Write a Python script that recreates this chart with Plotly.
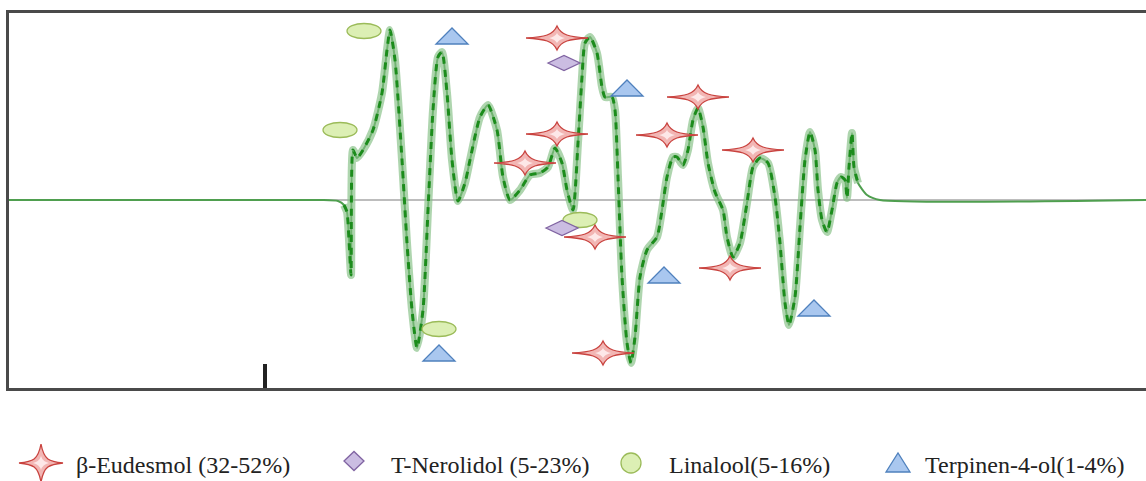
import plotly.graph_objects as go

# ---------------- data ----------------
signal_x = [9, 320, 338, 344, 347, 349, 351, 353, 357, 363, 373, 382, 387, 390, 395, 402, 407, 412, 417,
            423, 428, 433, 438, 442, 447, 452, 458, 465, 470, 480, 488, 497, 503, 510, 520, 530, 540,
            548, 555, 562, 567, 573, 578, 582, 585, 590, 597, 602, 605, 612, 615, 618, 622, 627, 631,
            635, 640, 647, 657, 662, 667, 673, 677, 683, 688, 693, 698, 703, 708, 715, 723, 727, 733,
            740, 747, 753, 760, 768, 775, 780, 785, 789, 795, 800, 805, 810, 815, 818, 822, 827, 832,
            837, 841, 845, 847, 849, 852, 854, 858, 867, 880, 1146]
signal_y = [0, 0, -1, -5, -12, -40, -75, 50, 42, 50, 70, 107, 150, 170, 140, 40, -43, -110, -148,
            -110, -10, 90, 143, 148, 107, 40, -1, 17, 40, 83, 95, 70, 23, 0, 10, 25, 27,
            33, 52, 37, 10, -10, 57, 123, 157, 163, 147, 113, 103, 103, 90, 23, -77, -143, -163,
            -137, -77, -50, -37, -10, 23, 43, 43, 35, 50, 80, 92, 73, 37, 8, -10, -37, -57,
            -43, -3, 33, 42, 37, 3, -43, -103, -125, -97, -27, 40, 68, 50, 10, -20, -32, -10,
            17, 23, 20, 2, 33, 67, 33, 17, 5, 0, 0]

eudesmol_x = [557, 698, 557, 667, 525, 753, 595, 730, 603]
eudesmol_y = [162, 103, 66, 65, 37, 50, -37, -68, -153]
nerolidol_x = [564, 562]
nerolidol_y = [137, -28]
linalool_x = [364, 340, 580, 439]
linalool_y = [169, 70, -20, -129]
terpinen_x = [452, 627, 664, 439, 814]
terpinen_y = [164, 112, -75, -153, -108]

series_names = ["β-Eudesmol (32-52%)", "T-Nerolidol (5-23%)", "Linalool(5-16%)", "Terpinen-4-ol(1-4%)"]
tick_positions = [265]

# ---------------- figure geometry ----------------
W, H = 1146, 481
ML, MR, MT, MB = 9, 0, 13, 93
PW, PH = W - ML - MR, H - MT - MB

def px_to_paper_x(px):
    return (px - ML) / PW

def px_to_paper_y(py):
    return (H - MB - py) / PH

# ---------------- marker glyphs (pixel offsets, y up) ----------------
STAR = ("M31,0 C12,1 4,3 0,12 C-4,3 -12,1 -31,0 "
        "C-12,-1 -4,-3 0,-12 C4,-3 12,-1 31,0 Z")
STAR_INNER = "M8,0 Q1.5,1.5 0,5 Q-1.5,1.5 -8,0 Q-1.5,-1.5 0,-5 Q1.5,-1.5 8,0 Z"
DIAMOND = "M-16,0 L0,7.5 L16,0 L0,-7.5 Z"
TRIANGLE = "M-16,-8 L16,-8 L0,8 Z"

LEG_STAR = ("M22,0 C8,1.5 3,3 0,19 C-3,3 -8,1.5 -22,0 "
            "C-8,-1.5 -3,-3 0,-19 C3,-3 8,-1.5 22,0 Z")
LEG_STAR_INNER = "M8,0 Q1.5,1.5 0,7 Q-1.5,1.5 -8,0 Q-1.5,-1.5 0,-7 Q1.5,-1.5 8,0 Z"
LEG_DIAMOND = "M-10,0 L0,9.5 L10,0 L0,-9.5 Z"
LEG_TRIANGLE = "M-12,-9 L12,-9 L0,10 Z"

STAR_LINE, STAR_FILL = "#c9433f", "#f2b6b4"
DIA_LINE, DIA_FILL = "#8064a2", "#cbbde2"
ELL_LINE, ELL_FILL = "#9bbb59", "#dcefb4"
TRI_LINE, TRI_FILL = "#4f81bd", "#a9c7ef"

shapes = []

def path_shape(ax, ay, path, line, fill, ref="data", lw=1.3):
    xr, yr = ("x", "y") if ref == "data" else ("paper", "paper")
    shapes.append(dict(type="path", xref=xr, yref=yr, xsizemode="pixel", ysizemode="pixel",
                       xanchor=ax, yanchor=ay, path=path, fillcolor=fill,
                       line=dict(color=line, width=lw), layer="above"))

def ellipse_shape(ax, ay, rx, ry, ref="data"):
    xr, yr = ("x", "y") if ref == "data" else ("paper", "paper")
    shapes.append(dict(type="circle", xref=xr, yref=yr, xsizemode="pixel", ysizemode="pixel",
                       xanchor=ax, yanchor=ay, x0=-rx, x1=rx, y0=-ry, y1=ry,
                       fillcolor=ELL_FILL, line=dict(color=ELL_LINE, width=1.3), layer="above"))

for x, y in zip(linalool_x, linalool_y):
    ellipse_shape(x, y, 17, 7.5)
for x, y in zip(terpinen_x, terpinen_y):
    path_shape(x, y, TRIANGLE, TRI_LINE, TRI_FILL)
for x, y in zip(nerolidol_x, nerolidol_y):
    path_shape(x, y, DIAMOND, DIA_LINE, DIA_FILL)
for x, y in zip(eudesmol_x, eudesmol_y):
    path_shape(x, y, STAR, STAR_LINE, STAR_FILL)
    path_shape(x, y, STAR_INNER, "rgba(255,255,255,0)", "#fde8e8", lw=0)

# ---------------- legend (icons + text) ----------------
legend_icon_px = [41, 354, 631, 898]
legend_text_px = [74, 389, 667, 923]
legend_py = 463

ly = px_to_paper_y(legend_py)
path_shape(px_to_paper_x(legend_icon_px[0]), ly, LEG_STAR, STAR_LINE, STAR_FILL, ref="paper")
path_shape(px_to_paper_x(legend_icon_px[0]), ly, LEG_STAR_INNER, "rgba(255,255,255,0)", "#fde8e8", ref="paper", lw=0)
path_shape(px_to_paper_x(legend_icon_px[1]), ly + 2 / PH, LEG_DIAMOND, DIA_LINE, DIA_FILL, ref="paper")
ellipse_shape(px_to_paper_x(legend_icon_px[2]), ly, 10, 10, ref="paper")
path_shape(px_to_paper_x(legend_icon_px[3]), ly, LEG_TRIANGLE, TRI_LINE, TRI_FILL, ref="paper")

annotations = []
for name, tx in zip(series_names, legend_text_px):
    annotations.append(dict(text=name, x=px_to_paper_x(tx), y=px_to_paper_y(legend_py + 2),
                            xref="paper", yref="paper",
                            xanchor="left", yanchor="middle", showarrow=False,
                            font=dict(family="Liberation Serif", size=24, color="#222222")))

# ---------------- traces ----------------
active_x = [x for x in signal_x if 340 <= x <= 862]
active_y = [y for x, y in zip(signal_x, signal_y) if 340 <= x <= 862]

fig = go.Figure()
fig.add_trace(go.Scatter(x=signal_x, y=signal_y, mode="lines",
                         line=dict(color="#4f9f4f", width=2, shape="spline", smoothing=0.6),
                         hoverinfo="skip", showlegend=False))
fig.add_trace(go.Scatter(x=active_x, y=active_y, mode="lines",
                         line=dict(color="rgba(130,190,130,0.65)", width=8, shape="spline", smoothing=0.6),
                         hoverinfo="skip", showlegend=False))
fig.add_trace(go.Scatter(x=active_x, y=active_y, mode="lines",
                         line=dict(color="#1c8c1c", width=3, dash="7px,6px", shape="spline", smoothing=0.6),
                         hoverinfo="skip", showlegend=False))

fig.update_layout(
    width=W, height=H, autosize=False,
    margin=dict(l=ML, r=MR, t=MT, b=MB, pad=0),
    paper_bgcolor="white", plot_bgcolor="white",
    showlegend=False,
    font=dict(family="Liberation Serif"),
    shapes=shapes, annotations=annotations,
    xaxis=dict(range=[ML, W], showgrid=False, zeroline=False, showline=True, mirror=True,
               linecolor="#4a4a4a", linewidth=3, tickvals=tick_positions, ticks="inside",
               ticklen=24, tickwidth=4, tickcolor="#222222", showticklabels=False, fixedrange=True),
    yaxis=dict(range=[-188, 187], showgrid=False, zeroline=True, zerolinecolor="#bdbdbd",
               zerolinewidth=2, showline=True, mirror=False, linecolor="#4a4a4a", linewidth=3,
               ticks="", showticklabels=False, fixedrange=True),
)

fig.write_html("out.html", config={"displayModeBar": False},
               post_script="document.body.style.margin='0';document.body.style.padding='0';"
                           "document.body.style.overflow='hidden';")
